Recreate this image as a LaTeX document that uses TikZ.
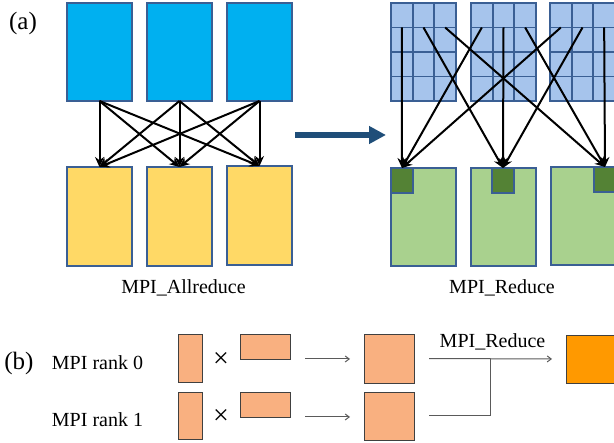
\documentclass[tikz,border=0pt]{standalone}
\usepackage{fontspec}
\setmainfont{Liberation Serif}
\newfontfamily\timesface{Liberation Serif}
\usetikzlibrary{arrows.meta,calc}
\definecolor{edgeblue}{HTML}{3A5F94}
\definecolor{skyfill}{HTML}{00B0F0}
\definecolor{sunfill}{HTML}{FFD966}
\definecolor{gridfill}{HTML}{A6C4EC}
\definecolor{leaffill}{HTML}{A9D18E}
\definecolor{mossfill}{HTML}{548235}
\definecolor{peachfill}{HTML}{F9B080}
\definecolor{amberfill}{HTML}{FF9900}
\definecolor{navyarrow}{HTML}{1F4E79}
\definecolor{wiregray}{HTML}{5A5A5A}
\begin{document}
\begin{tikzpicture}[x=1pt,y=-1pt,
  txt/.style={font=\timesface\fontsize{20}{24}\selectfont, inner sep=0pt, anchor=base},
  tag/.style={font=\timesface\fontsize{25}{30}\selectfont, inner sep=0pt, anchor=base},
  timessign/.style={inner sep=0pt, anchor=center, font=\timesface\fontsize{28}{32}\selectfont},
  blk/.style={draw=edgeblue, line width=1.8pt, inner sep=0pt, outer sep=0pt, anchor=north west},
  srcbox/.style={blk, fill=skyfill, minimum width=65pt, minimum height=98pt},
  dstbox/.style={blk, fill=sunfill, minimum width=65pt, minimum height=99pt},
  cell/.style={blk, fill=gridfill, minimum width=65pt/3, minimum height=24.5pt},
  leafbox/.style={blk, fill=leaffill, minimum width=65pt, minimum height=98pt},
  mossbox/.style={blk, fill=mossfill, minimum width=22pt, minimum height=25pt},
  bcast/.style={line width=2pt, -{Stealth[length=10pt,width=9pt]}},
  mat/.style={draw=black!75, line width=0.9pt, inner sep=0pt, outer sep=0pt, anchor=north west, fill=peachfill},
  wire/.style={draw=wiregray, line width=1pt},
  wirearrow/.style={wire, -{Straight Barb[length=4pt,width=6pt]}}
]
\useasboundingbox (0,0) rectangle (614,443);
\clip (0,0) rectangle (614,443);

% ---------- (a) left: MPI_Allreduce ----------
\node[tag] (lbla) at (23,30) {(a)};
\node[srcbox] (s1) at (67,3) {};
\node[srcbox] (s2) at (147,3) {};
\node[srcbox] (s3) at (227,3) {};
\node[dstbox] (y1) at (67,167) {};
\node[dstbox] (y2) at (147,167) {};
\node[dstbox] (y3) at (227,166) {};
\foreach \a in {1,2,3}
  \foreach \b in {1,2,3}
    \draw[bcast] (s\a.south) -- (y\b.north);
\node[txt] (capA) at (183.5,294) {MPI\_Allreduce};

% ---------- transition arrow ----------
\coordinate (mvA) at (295,135);
\coordinate (mvB) at (386,135);
\draw[navyarrow, line width=6pt, -{Triangle[length=17pt,width=17pt]}] (mvA) -- (mvB);

% ---------- (a) right: MPI_Reduce ----------
\foreach \L [count=\i] in {391,471,550}
  \foreach \r in {1,...,4}
    \foreach \c in {1,2,3}
      \node[cell] (g\i-\r-\c) at ({\L+(\c-1)*65/3},{3+(\r-1)*24.5}) {};
\node[leafbox] (r1) at (391,168) {};
\node[leafbox] (r2) at (471,168) {};
\node[leafbox] (r3) at (551,167) {};
\node[mossbox] (t1) at (391,168) {};
\node[mossbox] (t2) at (492,168) {};
\node[mossbox] (t3) at (594,167) {};
\foreach \i in {1,2,3}
  \foreach \c in {1,2,3}
    \draw[bcast] (g\i-1-\c.south) -- (t\c.north);
\node[txt] (capR) at (502,294) {MPI\_Reduce};

% ---------- (b) local product, then reduction ----------
\node[tag] (lblb) at (19,370) {(b)};
\node[txt] (rk0) at (97.5,370) {MPI rank 0};
\node[txt] (rk1) at (97.5,427) {MPI rank 1};

\node[mat, minimum width=24pt, minimum height=48pt] (a0) at (178,334) {};
\node[mat, minimum width=24pt, minimum height=47pt] (a1) at (178,392) {};
\node[timessign] (x0) at (221,360) {×};
\node[timessign] (x1) at (221,417) {×};
\node[mat, minimum width=50pt, minimum height=25pt] (b0) at (240,334) {};
\node[mat, minimum width=50pt, minimum height=25pt] (b1) at (240,392) {};
\node[mat, minimum width=50pt, minimum height=49pt] (c0) at (364,334) {};
\node[mat, minimum width=50pt, minimum height=48pt] (c1) at (364,392) {};
\node[mat, fill=amberfill, minimum width=50pt, minimum height=48pt] (d) at (566,335) {};

\draw[wirearrow, shorten <=15pt, shorten >=14pt] (b0.south east) -- (b0.south east -| c0.west);
\draw[wirearrow, shorten <=15pt, shorten >=14pt] (b1.south east) -- (b1.south east -| c1.west);
\draw[wirearrow, shorten <=15pt, shorten >=14pt] (c0.east) -- (d.west);
\coordinate (join) at (490,359);
\draw[wire, shorten <=15pt] (c1.east) -| (join);
\node[txt] (capB) at (492.5,348) {MPI\_Reduce};
\end{tikzpicture}
\end{document}
